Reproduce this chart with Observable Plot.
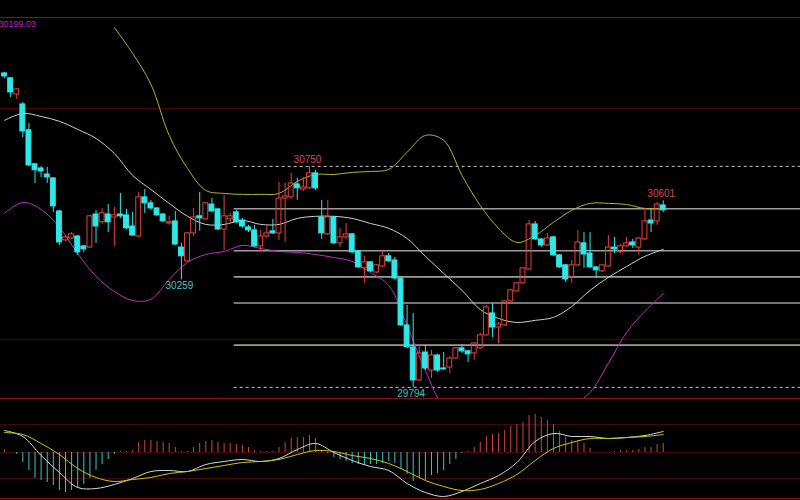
<!DOCTYPE html>
<html><head><meta charset="utf-8">
<script src="https://cdn.jsdelivr.net/npm/d3@7"></script>
<script src="https://cdn.jsdelivr.net/npm/@observablehq/plot@0.6"></script>
<style>
html,body{margin:0;padding:0;background:#000;}
#chart{width:800px;height:500px;overflow:hidden;background:#000;}
#chart svg{display:block;}
</style>
</head><body><div id="chart"></div>
<script>
// ---- Candles (index 0..108) ----
const open  = [31152,31131,31061,31018,30906,30759,30741,30715,30698,30555,30430,30438,30447,30404,30399,30542,30508,30542,30529,30542,30538,30490,30447,30616,30590,30568,30542,30503,30512,30399,30339,30460,30534,30521,30585,30564,30477,30521,30551,30516,30486,30473,30404,30447,30469,30460,30611,30616,30672,30650,30655,30720,30529,30456,30529,30417,30443,30456,30382,30309,30335,30291,30317,30361,30343,30265,30062,29967,29824,29945,29867,29932,29876,29880,29919,29963,29950,29941,29963,30019,30114,30053,30062,30166,30209,30244,30304,30499,30434,30408,30443,30365,30322,30270,30322,30417,30373,30313,30296,30317,30399,30378,30404,30421,30399,30434,30516,30512,30581];
const high  = [31157,31135,31087,31027,30936,30763,30750,30746,30702,30560,30447,30464,30451,30408,30538,30560,30568,30585,30572,30633,30564,30551,30637,30650,30603,30572,30547,30534,30555,30417,30464,30568,30637,30594,30611,30568,30624,30547,30560,30525,30495,30495,30473,30495,30521,30681,30676,30720,30698,30702,30750,30733,30603,30603,30534,30482,30503,30460,30386,30361,30339,30326,30382,30373,30356,30270,30149,30114,29976,29976,29954,29937,29945,29928,29967,29980,29954,29989,30028,30149,30157,30075,30170,30218,30248,30313,30516,30512,30438,30460,30447,30369,30326,30343,30473,30464,30464,30317,30326,30451,30443,30412,30443,30434,30443,30568,30568,30594,30601];
const low   = [31131,31048,31040,30875,30750,30676,30702,30676,30551,30408,30425,30434,30365,30378,30395,30417,30499,30464,30404,30525,30477,30447,30443,30547,30560,30534,30508,30495,30408,30259,30335,30447,30469,30516,30551,30473,30386,30508,30503,30482,30464,30399,30382,30438,30456,30430,30421,30607,30603,30642,30650,30646,30434,30451,30412,30399,30434,30373,30309,30244,30291,30287,30313,30335,30257,30058,29963,29794,29820,29867,29833,29859,29867,29854,29915,29941,29902,29911,29958,30015,30010,29984,30058,30162,30205,30240,30300,30430,30399,30404,30361,30309,30248,30244,30317,30309,30309,30265,30291,30313,30373,30373,30399,30395,30365,30430,30464,30495,30551];
const close = [31139,31070,31083,30901,30754,30733,30728,30702,30577,30421,30443,30456,30378,30391,30534,30490,30547,30508,30538,30534,30482,30451,30616,30590,30568,30538,30512,30508,30412,30361,30460,30529,30525,30590,30555,30477,30534,30534,30508,30490,30473,30404,30447,30460,30460,30611,30620,30676,30655,30659,30720,30655,30460,30529,30417,30443,30456,30378,30313,30335,30296,30322,30361,30339,30265,30062,29967,29824,29941,29876,29932,29867,29872,29919,29963,29950,29937,29984,30019,30140,30053,30066,30166,30214,30244,30309,30499,30434,30408,30438,30365,30313,30261,30322,30421,30369,30313,30300,30322,30399,30391,30404,30417,30408,30438,30512,30503,30585,30560];

// ---- Bollinger bands, read every 3 bars ----
const bandIdx = [0,3,6,9,12,15,18,21,24,27,30,33,36,39,42,45,48,51,54,57,60,63,66,69,72,75,78,81,84,87,90,93,96,99,102,105,108];
const bollUpper = [null,null,null,null,null,null,31351,31239,31105,30884,30741,30646,30633,30629,30629,30633,30685,30715,30715,30724,30728,30737,30811,30884,30863,30711,30581,30482,30421,30451,30508,30560,30590,30590,30585,30568,30568];
const bollMid   = [30949,30979,30966,30945,30910,30871,30806,30711,30650,30590,30534,30499,30499,30516,30499,30499,30525,30534,30534,30525,30503,30482,30438,30361,30287,30214,30131,30092,30075,30084,30097,30144,30214,30270,30317,30361,30391];
const bollLower = [30547,30594,30564,30486,30373,30274,30209,30170,30175,30261,30335,30369,30382,30408,30395,30382,30378,30369,30356,30339,30291,30235,30062,29867,29716,29694,29694,29716,29720,29712,29694,29716,29772,29898,30032,30123,30199.03];

// ---- Fibonacci retracement levels (from 30750 high to 29794 low) ----
const fibStartIdx = 38;
const fibSolid  = [30567, 30385, 30272, 30159, 29977];
const fibDashed = [30750, 29794];

// ---- Price panel frame / grid ----
const priceTop = 31394, priceBottom = 29746;
const priceGrid = [31000, 30000];

// ---- Extreme price labels ----
const extremeIdx  = [50, 29, 67, 108];
const extremeKind = ["high", "low", "low", "high"];

// ---- MACD (histogram per bar; DIF/DEA every 3 bars) ----
const macdHist = [3,0,-2,-10,-18,-26,-28,-30,-33,-38,-40,-38,-36,-32,-26,-18,-12,-7,-2,1,1,2,10,12,12,11,10,9,5,1,1,5,9,11,12,10,9,9,8,7,5,2,1,1,1,5,10,14,15,15,17,14,2,-1,-5,-7,-9,-11,-12,-13,-12,-12,-11,-9,-11,-17,-22,-29,-26,-28,-23,-21,-18,-12,-7,-1,1,5,10,16,18,19,22,26,28,30,37,38,35,32,28,21,15,12,12,9,4,0,0,0,1,2,2,2,3,5,5,8,9];
const macdDif = [22,16,-3,-20,-35,-36,-32,-26,-19,-18,-19,-12,-9,-7,-9,-6,3,9,0,-8,-14,-18,-31,-40,-44,-39,-31,-23,-10,11,19,16,16,14,15,17,21];
const macdDea = [20,18,9,-2,-16,-25,-29,-27,-25,-21,-19,-16,-13,-10,-9,-7,-2,2,1,-3,-6,-11,-19,-28,-34,-38,-37,-31,-22,-8,4,10,14,14,15,16,18];
const macdTop = 54, macdBottom = -48;
const macdFrame = [54, -46];
const macdGrid = [28, 0, -26];

// ---- build tables ----
const xDomain = [-0.66, 130.5];
const UP = "#e8403c", DOWN = "#2ee8e8";
const candles = open.map((o, i) => ({i, o, h: high[i], l: low[i], c: close[i], up: close[i] >= o}));
const bands = bandIdx.map((i, k) => ({i, upper: bollUpper[k], mid: bollMid[k], lower: bollLower[k], dif: macdDif[k], dea: macdDea[k]}));
const hist = macdHist.map((v, i) => ({i, v}));
const extremes = extremeIdx.map((i, k) => ({i, kind: extremeKind[k], p: extremeKind[k] === "high" ? high[i] : low[i]}));
const FONT = "Liberation Sans, Arial, sans-serif";

const main = Plot.plot({
  width: 800, height: 398,
  marginTop: 17, marginBottom: 0, marginLeft: 0, marginRight: 0,
  style: {background: "#000", fontFamily: FONT},
  x: {domain: xDomain, axis: null},
  y: {domain: [priceBottom, priceTop], axis: null},
  marks: [
    Plot.ruleY([priceTop], {stroke: "#8a1212", strokeWidth: 1}),
    Plot.ruleY(priceGrid, {stroke: "#4a0a0a", strokeWidth: 1}),
    Plot.ruleY(fibSolid, {x1: () => fibStartIdx - 0.35, x2: () => xDomain[1], stroke: "#9c9c9c", strokeWidth: 1.6}),
    Plot.ruleY(fibDashed, {x1: () => fibStartIdx - 0.35, x2: () => xDomain[1], stroke: "#c8c8c8", strokeWidth: 1, strokeDasharray: "3,3"}),
    Plot.line(bands, {x: "i", y: "mid", stroke: "#cfcfcf", strokeWidth: 1, curve: "catmull-rom", clip: true}),
    Plot.line(bands, {x: "i", y: "upper", stroke: "#b4b428", strokeWidth: 1, curve: "catmull-rom", clip: true}),
    Plot.line(bands, {x: "i", y: "lower", stroke: "#c02cc0", strokeWidth: 1, curve: "catmull-rom", clip: true}),
    Plot.ruleX(candles, {x: "i", y1: d => Math.max(d.o, d.c), y2: "h", stroke: d => d.up ? UP : DOWN, strokeWidth: 1, clip: true}),
    Plot.ruleX(candles, {x: "i", y1: "l", y2: d => Math.min(d.o, d.c), stroke: d => d.up ? UP : DOWN, strokeWidth: 1, clip: true}),
    Plot.rect(candles, {x1: d => d.i - 0.4, x2: d => d.i + 0.4, y1: "o", y2: "c",
      fill: d => d.up ? "none" : DOWN, stroke: d => d.up ? UP : DOWN, strokeWidth: 1, clip: true}),
    Plot.text(extremes.filter(d => d.kind === "high"), {x: "i", y: "p", text: d => String(d.p), dx: -2, dy: -7,
      fill: "#d84848", fontSize: 10, fontFamily: FONT}),
    Plot.text(extremes.filter(d => d.kind === "low"), {x: "i", y: "p", text: d => String(d.p), dx: -2, dy: 6,
      fill: "#3cc8c8", fontSize: 10, fontFamily: FONT}),
    Plot.text([bollLower[bollLower.length - 1]], {frameAnchor: "top-left", text: d => d.toFixed(2), textAnchor: "start",
      lineAnchor: "middle", dx: -2, dy: 6.5, fill: "#c41cc4", fontSize: 9, fontFamily: FONT})
  ]
});

const macd = Plot.plot({
  width: 800, height: 102,
  marginTop: 0, marginBottom: 0, marginLeft: 0, marginRight: 0,
  style: {background: "#000", fontFamily: FONT},
  x: {domain: xDomain, axis: null},
  y: {domain: [macdBottom, macdTop], axis: null},
  marks: [
    Plot.ruleY(macdGrid, {stroke: "#440808", strokeWidth: 1}),
    Plot.ruleY(macdFrame, {stroke: "#8a1212", strokeWidth: 1}),
    Plot.ruleX(hist, {x: "i", y1: 0, y2: "v", stroke: d => d.v >= 0 ? "#d04444" : "#34c8c8", strokeWidth: 1}),
    Plot.line(bands, {x: "i", y: "dif", stroke: "#d8d8d8", strokeWidth: 1, curve: "catmull-rom"}),
    Plot.line(bands, {x: "i", y: "dea", stroke: "#c8c814", strokeWidth: 1, curve: "catmull-rom"})
  ]
});

const root = document.getElementById("chart");
root.appendChild(main);
root.appendChild(macd);
</script>
</body></html>
